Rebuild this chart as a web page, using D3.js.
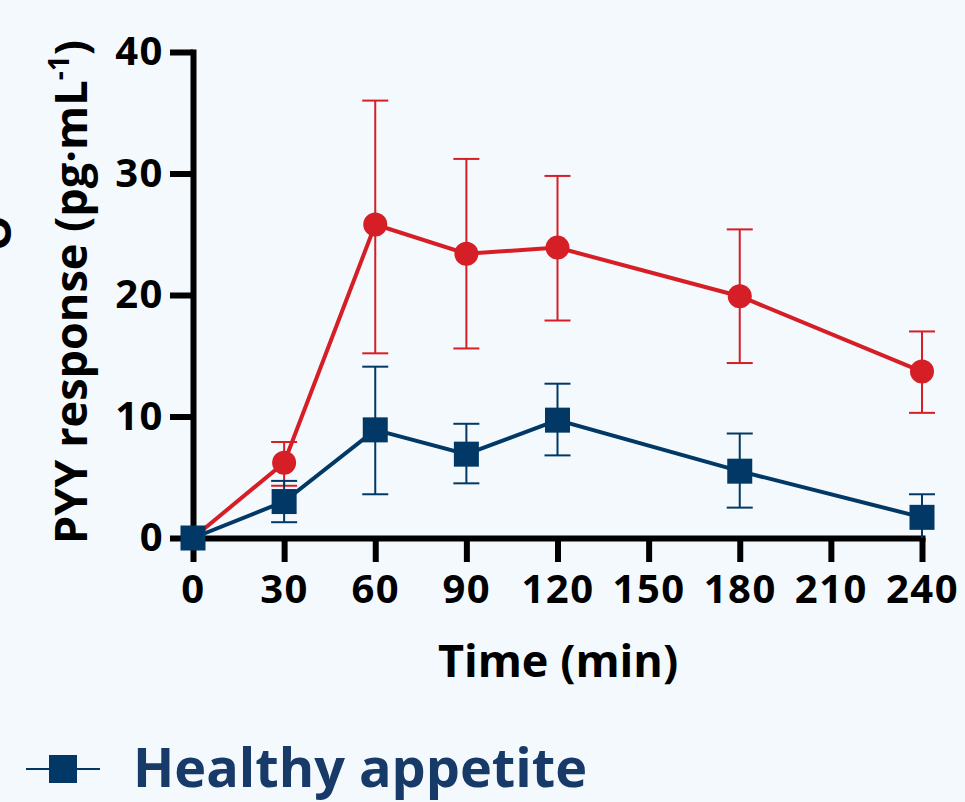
<!DOCTYPE html>
<html>
<head>
<meta charset="utf-8">
<script src="https://cdn.jsdelivr.net/npm/d3@7"></script>
<style>
  html, body { margin: 0; padding: 0; background: #f4f9fd; }
  svg { display: block; font-family: "Open Sans", Lato, sans-serif; }
  .axis path, .axis line { stroke: #000; stroke-width: 6; }
  .axis text { font-size: 40px; font-weight: 700; fill: #000; font-family: "Open Sans", sans-serif; letter-spacing: 1.5px; }
  .axis-title { font-size: 45px; font-weight: 700; fill: #000; }
</style>
</head>
<body>
<svg id="chart"></svg>
<script>
// time points (min)
const times = [0, 30, 60, 90, 120, 180, 240]
const xTicks = [0, 30, 60, 90, 120, 150, 180, 210, 240]
const yTicks = [0, 10, 20, 30, 40]

// red series (circles)
const redMean = [0, 6.2, 25.8, 23.4, 23.9, 19.9, 13.7]
const redLow  = [0, 4.3, 15.2, 15.6, 17.9, 14.4, 10.3]
const redHigh = [0, 7.9, 36.0, 31.2, 29.8, 25.4, 17.0]

// Healthy appetite (squares)
const blueMean = [0, 3.0, 8.9, 6.9, 9.7, 5.5, 1.7]
const blueLow  = [0, 1.3, 3.6, 4.5, 6.8, 2.5, 0]
const blueHigh = [0, 4.7, 14.1, 9.4, 12.7, 8.6, 3.6]

const legendLabel = 'Healthy appetite'

const RED = '#d51e26'
const NAVY = '#013865'

const W = 965, H = 802
const margin = {top: 52, left: 193, right: 43, bottom: 264}
const width = W - margin.left - margin.right
const height = H - margin.top - margin.bottom

const svg = d3.select('#chart')
    .attr('width', W)
    .attr('height', H)

const x = d3.scaleLinear().domain([0, 240]).range([0, width])
const y = d3.scaleLinear().domain([0, 40]).range([height, 0])

const chart = svg.append('g')
    .attr('transform', `translate(${margin.left},${margin.top})`)

// axes
const xAxisG = chart.append('g')
    .attr('class', 'axis x-axis')
    .attr('transform', `translate(0,${height})`)
    .call(d3.axisBottom(x).tickValues(xTicks).tickSize(24).tickSizeOuter(0).tickPadding(13))

const yAxisG = chart.append('g')
    .attr('class', 'axis y-axis')
    .call(d3.axisLeft(y).tickValues(yTicks).tickSize(23).tickSizeOuter(0).tickPadding(6))

chart.selectAll('.axis path').attr('stroke-linecap', 'square')

// axis titles
svg.append('text')
    .attr('class', 'axis-title')
    .attr('x', 558)
    .attr('y', 677)
    .attr('text-anchor', 'middle')
    .attr('font-size', 43)
    .text('Time (min)')

const yt = svg.append('text')
    .attr('class', 'axis-title')
    .attr('transform', 'translate(87,292) rotate(-90)')
    .attr('text-anchor', 'middle')
yt.append('tspan').text('PYY response (pg·mL')
yt.append('tspan').attr('font-size', 28).attr('dy', -18).text('-1')
yt.append('tspan').attr('dy', 18).text(')')

// fragment of neighbouring label, cut by the frame
svg.append('text')
    .attr('class', 'axis-title')
    .attr('transform', 'translate(11,233) rotate(-90)')
    .attr('text-anchor', 'middle')
    .text('O')

// series
function drawSeries(mean, low, high, color, shape) {
    const g = chart.append('g')
    const pts = times.map((t, i) => ({t, m: mean[i], lo: low[i], hi: high[i]}))

    const bars = g.selectAll('.err').data(pts.filter(d => d.hi > d.lo)).join('g')
        .attr('stroke', color).attr('stroke-width', 2)
    bars.append('line')
        .attr('x1', d => x(d.t)).attr('x2', d => x(d.t))
        .attr('y1', d => y(d.lo)).attr('y2', d => y(d.hi))
    bars.append('line')
        .attr('x1', d => x(d.t) - 13).attr('x2', d => x(d.t) + 13)
        .attr('y1', d => y(d.hi)).attr('y2', d => y(d.hi))
    bars.filter(d => d.lo > 0).append('line')
        .attr('x1', d => x(d.t) - 13).attr('x2', d => x(d.t) + 13)
        .attr('y1', d => y(d.lo)).attr('y2', d => y(d.lo))

    g.append('path')
        .datum(pts)
        .attr('fill', 'none')
        .attr('stroke', color)
        .attr('stroke-width', 4)
        .attr('d', d3.line().x(d => x(d.t)).y(d => y(d.m)))

    if (shape === 'circle') {
        g.selectAll('.pt').data(pts).join('circle')
            .attr('cx', d => x(d.t)).attr('cy', d => y(d.m)).attr('r', 12)
            .attr('fill', color)
    } else {
        g.selectAll('.pt').data(pts).join('rect')
            .attr('x', d => x(d.t) - 12.5).attr('y', d => y(d.m) - 12.5)
            .attr('width', 25).attr('height', 25)
            .attr('fill', color)
    }
}

drawSeries(redMean, redLow, redHigh, RED, 'circle')
drawSeries(blueMean, blueLow, blueHigh, NAVY, 'square')

// legend
const lg = svg.append('g').attr('transform', 'translate(0,769)')
lg.append('line').attr('x1', 26).attr('x2', 100).attr('stroke', NAVY).attr('stroke-width', 2)
lg.append('rect').attr('x', 49).attr('y', -14).attr('width', 28).attr('height', 28).attr('fill', NAVY)
lg.append('text')
    .attr('x', 133).attr('y', 18)
    .attr('font-size', 54).attr('font-weight', 700)
    .attr('fill', '#173a68')
    .text(legendLabel)
</script>
</body>
</html>
